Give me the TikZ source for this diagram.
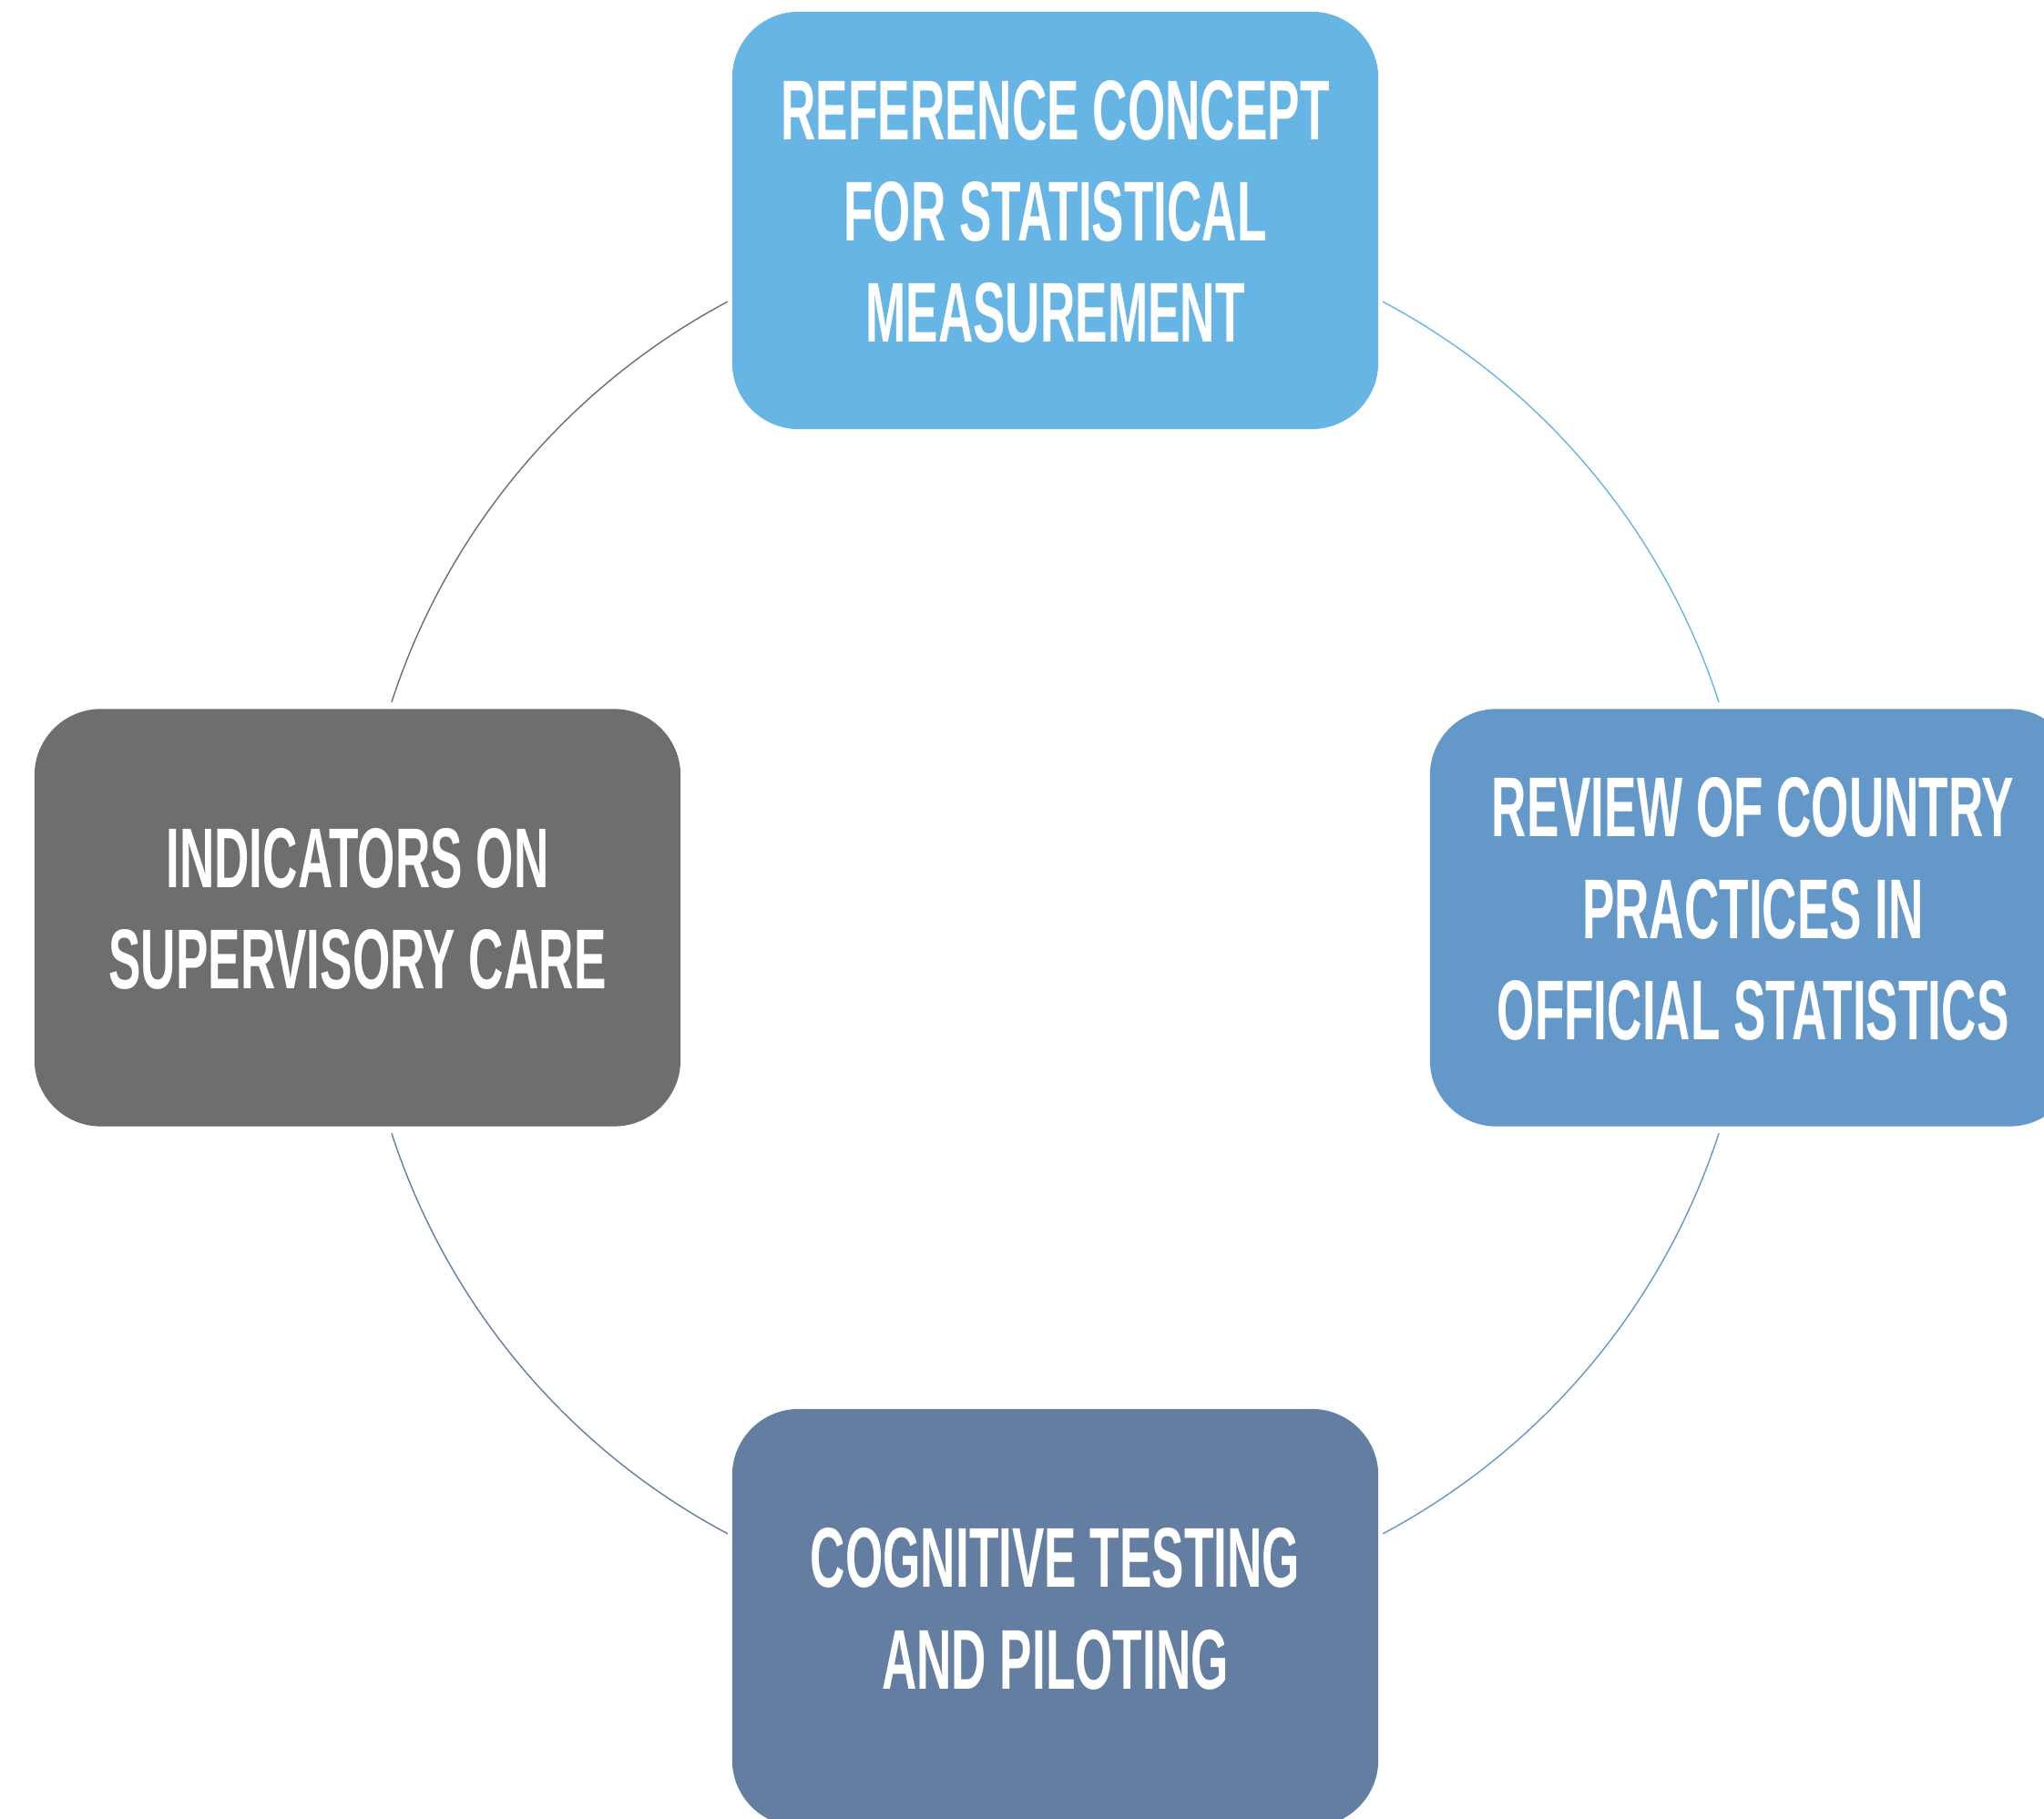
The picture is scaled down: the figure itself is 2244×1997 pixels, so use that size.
\documentclass[tikz,border=0pt]{standalone}
\usepackage{fontspec}
\newfontfamily\stagefont[FakeStretch=0.57]{Liberation Sans Bold}
\usepackage{xcolor}
\definecolor{refblue}{HTML}{66B5E5}
\definecolor{revblue}{HTML}{6398C9}
\definecolor{cogblue}{HTML}{637EA1}
\definecolor{indgrey}{HTML}{6D6E70}

\begin{document}
\begin{tikzpicture}[x=0.01cm, y=0.01cm,
	stage/.style={rectangle, rounded corners=0.73cm, minimum width=7.09cm, minimum height=4.58cm, inner sep=0pt, text=white, align=center, text depth=0.2cm, font=\stagefont\fontsize{26.5}{31.6}\selectfont},
	cycleline/.style={line width=0.4pt}]
	\useasboundingbox (0,0) rectangle (2244,1997);
	\clip (0,0) rectangle (2244,1997);
	\coordinate (c) at (1158.5, 989.5);
	\node (ref) [stage, fill=refblue] at (1158.5, 1755) {REFERENCE CONCEPT\\FOR STATISTICAL\\MEASUREMENT};
	\node (rev) [stage, fill=revblue] at (1924.5, 989.5) {REVIEW OF COUNTRY\\PRACTICES IN\\OFFICIAL STATISTICS};
	\node (cog) [stage, fill=cogblue] at (1158.5, 221) {COGNITIVE TESTING\\AND PILOTING};
	\node (ind) [stage, fill=indgrey] at (392.5, 989.5) {INDICATORS ON\\SUPERVISORY CARE};
	% arcs round the cycle
	\coordinate (refrev) at ([shift={(62:766)}]c);
	\coordinate (revcog) at ([shift={(342:766)}]c);
	\coordinate (cogind) at ([shift={(242:766)}]c);
	\coordinate (indref) at ([shift={(162:766)}]c);
	\draw[cycleline, refblue] (refrev) arc[start angle=62, end angle=18, radius=766];
	\draw[cycleline, revblue] (revcog) arc[start angle=342, end angle=298, radius=766];
	\draw[cycleline, cogblue] (cogind) arc[start angle=242, end angle=198, radius=766];
	\draw[cycleline, indgrey] (indref) arc[start angle=162, end angle=118, radius=766];
\end{tikzpicture}
\end{document}
